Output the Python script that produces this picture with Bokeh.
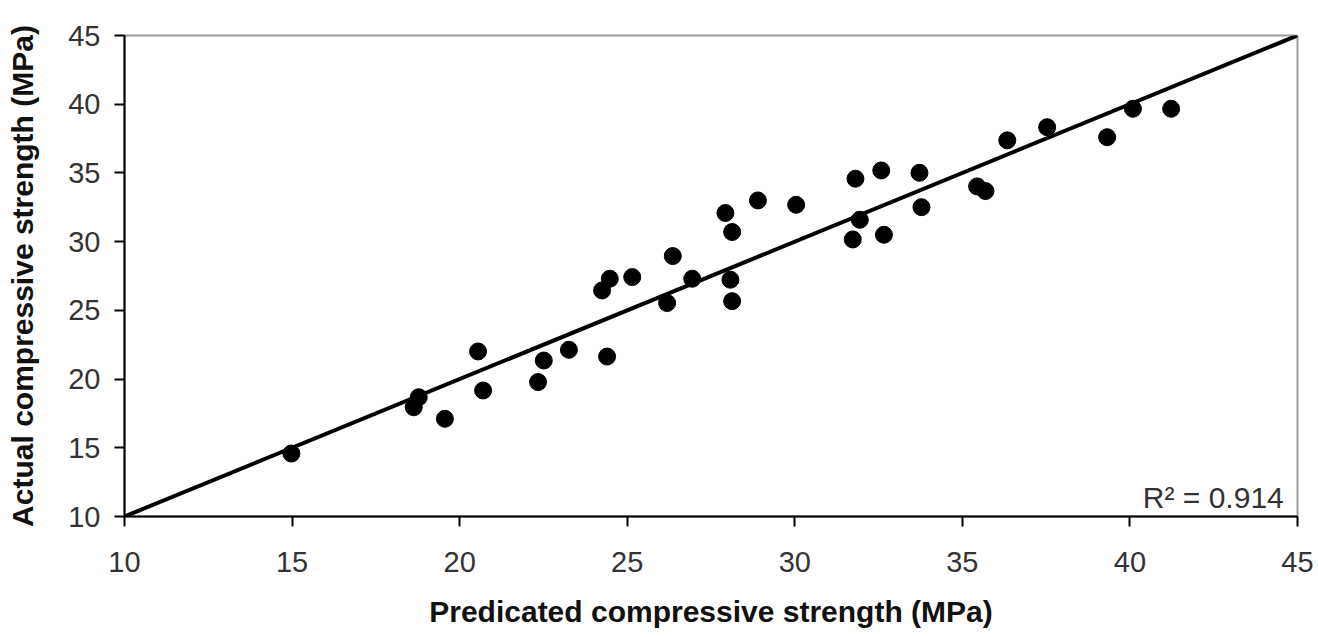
from bokeh.plotting import figure
from bokeh.models import Label, FixedTicker
from bokeh.embed import file_html
from bokeh.resources import INLINE

# Data
predicted = [14.98, 18.63, 18.78, 19.56, 20.55, 20.70, 22.34, 22.51, 23.26, 24.40,
             24.25, 24.48, 25.15, 26.19, 26.36, 26.94, 27.93, 28.13, 28.08, 28.13,
             28.90, 30.04, 31.81, 31.73, 31.94, 32.58, 32.66, 33.72, 33.78, 35.44,
             35.69, 36.34, 37.53, 39.32, 40.09, 41.23]
actual = [14.58, 17.95, 18.68, 17.11, 22.01, 19.17, 19.78, 21.35, 22.13, 21.64,
          26.45, 27.30, 27.42, 25.53, 28.95, 27.30, 32.08, 30.70, 27.23, 25.67,
          33.00, 32.68, 34.58, 30.16, 31.59, 35.18, 30.50, 35.01, 32.51, 34.02,
          33.68, 37.37, 38.33, 37.60, 39.67, 39.67]
fit_x = [10, 45]
fit_y = [10, 45]
x_ticks = [10, 15, 20, 25, 30, 35, 40, 45]
y_ticks = [10, 15, 20, 25, 30, 35, 40, 45]
r2_text = "R² = 0.914"
x_title = "Predicated compressive strength (MPa)"
y_title = "Actual compressive strength (MPa)"

FONT = "Liberation Sans"

p = figure(width=1318, height=637, x_range=(10, 45), y_range=(10, 45),
           output_backend="svg", toolbar_location=None,
           min_border_left=124, min_border_top=35, min_border_right=21,
           min_border_bottom=121)

p.xgrid.visible = False
p.ygrid.visible = False
p.background_fill_color = "white"
p.border_fill_color = "white"
p.outline_line_color = "#9a9a9a"
p.outline_line_width = 2

p.xaxis.ticker = FixedTicker(ticks=x_ticks)
p.yaxis.ticker = FixedTicker(ticks=y_ticks)

for ax in (p.xaxis, p.yaxis):
    ax.axis_line_color = "black"
    ax.axis_line_width = 2
    ax.major_tick_line_color = "black"
    ax.major_tick_line_width = 2
    ax.major_tick_in = 0
    ax.major_tick_out = 10
    ax.minor_tick_line_color = None
    ax.major_label_text_font = FONT
    ax.major_label_text_font_size = "29px"
    ax.major_label_text_color = "#333333"
    ax.axis_label_text_font = FONT
    ax.axis_label_text_font_size = "30px"
    ax.axis_label_text_font_style = "bold"
    ax.axis_label_text_color = "#111111"

p.xaxis.axis_label = x_title
p.yaxis.axis_label = y_title
p.xaxis.major_label_standoff = 25
p.xaxis.axis_label_standoff = 20
p.yaxis.major_label_standoff = 14
p.yaxis.axis_label_standoff = 26

p.line(fit_x, fit_y, line_color="black", line_width=4)
p.scatter(predicted, actual, size=17, fill_color="black", line_color="black")

lbl = Label(x=44.59, y=11.38, text=r2_text, text_align="right",
            text_baseline="alphabetic", text_font=FONT,
            text_font_size="30px", text_color="#333333")
p.add_layout(lbl)

open("out.html", "w").write(file_html(p, INLINE))
